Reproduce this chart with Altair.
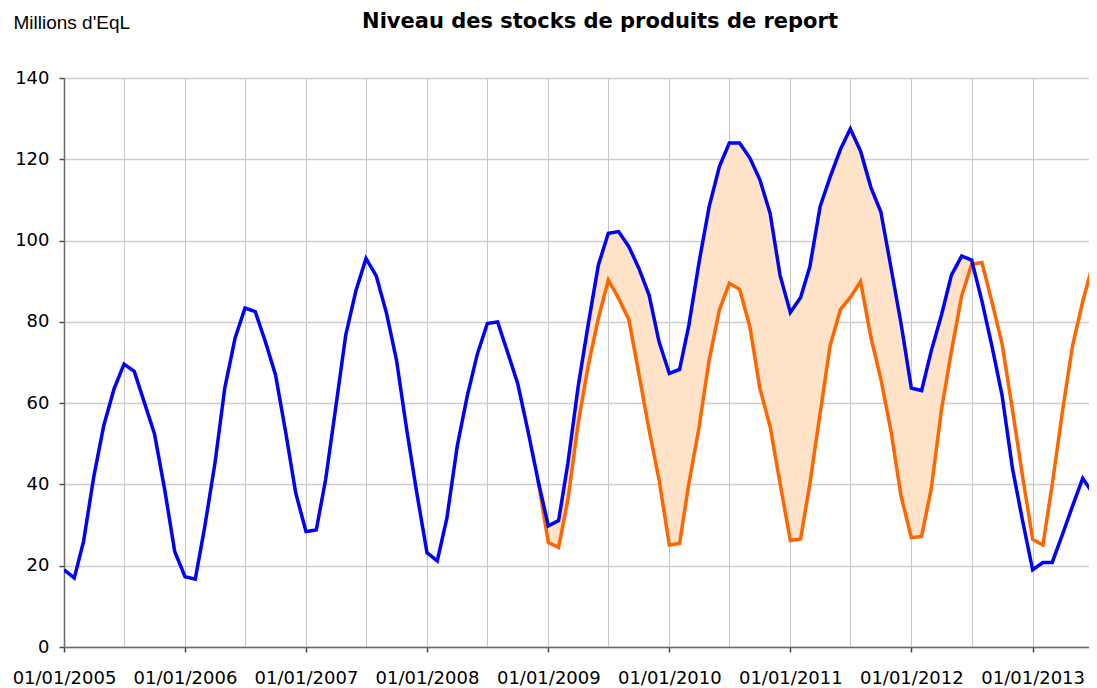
import altair as alt
import pandas as pd

title_text = "Niveau des stocks de produits de report"
unit_text = "Millions d'EqL"

# Monthly stock level (blue), Jan 2005 -> Jul 2013
blue_values = [
    19, 17, 26, 42, 54.5, 63.5, 69.6, 67.8, 60, 52.4, 38.6, 23.5,          # 2005
    17.3, 16.7, 29.3, 45, 63.7, 76, 83.4, 82.5, 75, 67, 52.7, 37.9,        # 2006
    28.4, 28.8, 41.1, 59.1, 76.8, 87.8, 95.6, 91.3, 82.1, 70.6, 53.4, 38,  # 2007
    23.2, 21.2, 31.7, 49.3, 61.6, 72.1, 79.6, 80, 72.3, 64.7, 53, 41,      # 2008
    29.8, 31.1, 45.2, 64.1, 79.2, 94, 101.8, 102.2, 98.5, 93.2, 86.6, 75.1,  # 2009
    67.3, 68.3, 79.2, 94.8, 108.3, 118.2, 124, 124, 120.3, 115, 106.7, 91.5,  # 2010
    82.3, 86, 93.6, 108.4, 115.6, 122.4, 127.5, 122, 113.1, 107.1, 93.2, 79.6,  # 2011
    63.7, 63.1, 72.8, 81.7, 91.5, 96.2, 95.2, 85.1, 73.7, 61.8, 44, 31.3,  # 2012
    19, 20.8, 20.8, 27.7, 34.6, 41.5, 37.9,                                # 2013
]

# Reference level (orange), Dec 2008 -> Jul 2013
orange_start = "2008-12-01"
orange_values = [
    41,
    25.7, 24.5, 36.2, 55, 69, 80.9, 90.3, 85.8, 80.5, 67.3, 53.4, 41.1,    # 2009
    25.1, 25.5, 40.3, 54.2, 70.6, 82.9, 89.5, 88, 78.8, 63.7, 54.2, 40.3,  # 2010
    26.2, 26.6, 40.2, 57.6, 74.1, 83, 86, 89.9, 76.2, 66, 52.9, 37.2,      # 2011
    26.9, 27.2, 38.9, 58.4, 72.8, 86.4, 94.2, 94.6, 84.6, 74.5, 58.4, 42.3,  # 2012
    26.5, 25.1, 40, 58, 74, 85, 94,                                        # 2013
]
fill_end = "2012-07-01"

y_ticks = [0, 20, 40, 60, 80, 100, 120, 140]

blue_df = pd.DataFrame({
    "date": pd.date_range("2005-01-01", periods=len(blue_values), freq="MS"),
    "stock": blue_values,
})
orange_df = pd.DataFrame({
    "date": pd.date_range(orange_start, periods=len(orange_values), freq="MS"),
    "ref": orange_values,
})
both = blue_df.merge(orange_df, on="date", how="inner")
area_df = both[both["date"] <= pd.Timestamp(fill_end)]
area_df = area_df.assign(date=area_df["date"].dt.strftime("%Y-%m-%dT00:00:00"))
blue_df = blue_df.assign(date=blue_df["date"].dt.strftime("%Y-%m-%dT00:00:00"))
orange_df = orange_df.assign(date=orange_df["date"].dt.strftime("%Y-%m-%dT00:00:00"))

grid_dates = []
for yr in range(2005, 2014):
    grid_dates.append(alt.DateTime(year=yr, month=1, date=1))
    grid_dates.append(alt.DateTime(year=yr, month=7, date=1))

x_scale = alt.Scale(domain=[alt.DateTime(year=2005, month=1, date=1),
                            alt.DateTime(year=2013, month=6, date=20)])
y_scale = alt.Scale(domain=[0, 140], nice=False, zero=True)

x_axis = alt.Axis(
    values=grid_dates,
    labelExpr="month(datum.value) == 0 ? timeFormat(datum.value, '%d/%m/%Y') : ''",
    tickOpacity={"condition": {"test": "month(datum.value) == 0", "value": 1}, "value": 0},
    grid=True, gridColor="#c6c6c6", gridWidth=1,
    domainColor="#6a6a6a", domainWidth=1.5,
    tickColor="#4a4a4a", tickWidth=1.5, tickSize=5,
    labelFont="DejaVu Sans", labelFontSize=18, labelColor="#000000",
    labelPadding=17, labelOverlap=False, labelFlush=False,
    title=None,
)
y_axis = alt.Axis(
    values=y_ticks,
    grid=True, gridColor="#cdcdcd", gridWidth=1.3,
    domainColor="#6a6a6a", domainWidth=1.5,
    tickColor="#4a4a4a", tickWidth=1.5, tickSize=5,
    labelFont="DejaVu Sans", labelFontSize=18, labelColor="#000000",
    labelPadding=10,
    title=unit_text, titleAngle=0, titleX=-51, titleY=-50,
    titleAlign="left", titleBaseline="alphabetic",
    titleFont="Liberation Sans", titleFontSize=19, titleFontWeight="normal",
    titleColor="#000000",
)

area = alt.Chart(area_df).mark_area(color="#FEE3C9", opacity=1, clip=True).encode(
    x=alt.X("date:T", scale=x_scale, axis=x_axis),
    y=alt.Y("ref:Q", scale=y_scale, axis=y_axis),
    y2="stock:Q",
)

orange_line = alt.Chart(orange_df).mark_line(color="#FF6600", strokeWidth=3.5, clip=True).encode(
    x=alt.X("date:T", scale=x_scale),
    y=alt.Y("ref:Q", scale=y_scale),
)

blue_line = alt.Chart(blue_df).mark_line(color="#0000FF", strokeWidth=3.5, clip=True).encode(
    x=alt.X("date:T", scale=x_scale),
    y=alt.Y("stock:Q", scale=y_scale),
)

title_mark = alt.Chart(pd.DataFrame({"t": [title_text]})).mark_text(
    font="DejaVu Sans", fontSize=21, fontWeight="bold", color="#000000",
    align="center", baseline="alphabetic",
).encode(
    text="t:N",
    x=alt.value(536),
    y=alt.value(-50),
)

chart = alt.layer(area, orange_line, blue_line, title_mark).properties(
    width=1025,
    height=569,
    padding={"left": 56, "top": 70, "right": 0, "bottom": 46},
    autosize=alt.AutoSizeParams(type="none"),
).configure_view(stroke=None)

chart.save("out.html", embed_options={"renderer": "svg", "actions": False})
